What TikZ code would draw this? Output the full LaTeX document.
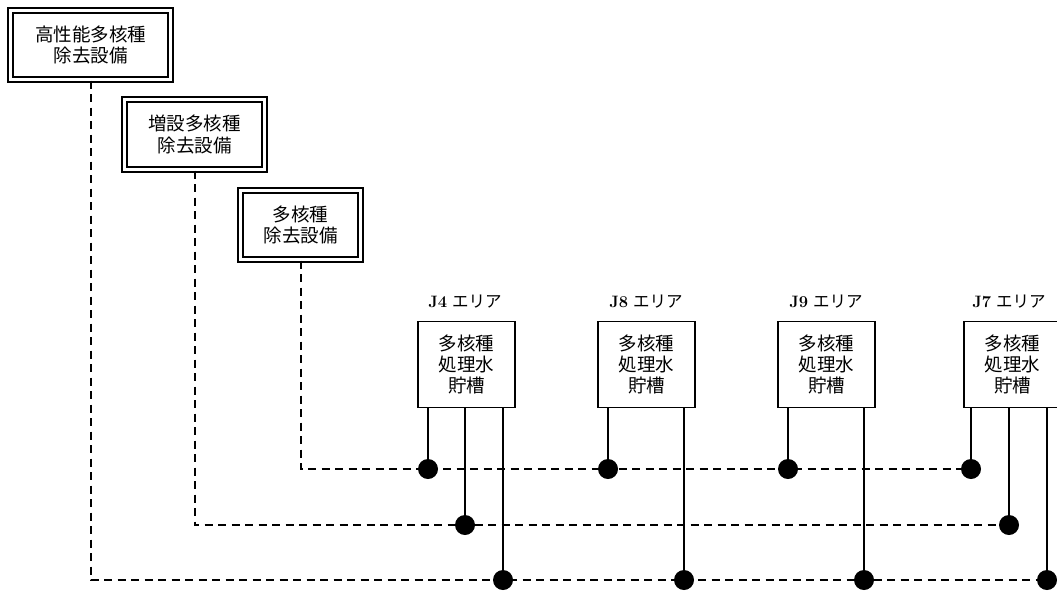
\documentclass[tikz,border=0pt]{standalone}
\usepackage{fontspec}
\newfontfamily\jp{Noto Sans CJK JP}
\begin{document}
\begin{tikzpicture}[x=1pt,y=-1pt,
  srcbox/.style={draw,double,line width=2pt,double distance=2.3pt,align=center,
    font=\fontsize{18.5}{21.5}\jp,inner sep=0pt},
  tank/.style={draw,line width=1.8pt,align=center,minimum width=97pt,minimum height=86pt,
    font=\fontsize{18.5}{21}\jp,inner sep=0pt},
  area/.style={font=\fontsize{16.5}{19}\selectfont,inner sep=0pt},
  pipe/.style={line width=1.7pt},
  dline/.style={line width=2pt,dash pattern=on 8pt off 5.5pt},
  jdot/.style={circle,fill,minimum size=20pt,inner sep=0pt}]
\useasboundingbox (0,0) rectangle (1057,595);
% source facilities
\node[srcbox,minimum width=160pt,minimum height=69pt] (b1) at (90.5,45) {高性能多核種\\除去設備};
\node[srcbox,minimum width=140pt,minimum height=70pt] (b2) at (194.5,134.5) {増設多核種\\除去設備};
\node[srcbox,minimum width=120pt,minimum height=69pt] (b3) at (300.5,225) {多核種\\除去設備};
% tanks
\node[tank] (t4) at (466.5,364.5) {多核種\\処理水\\貯槽};
\node[tank] (t8) at (646.5,364.5) {多核種\\処理水\\貯槽};
\node[tank] (t9) at (826.5,364.5) {多核種\\処理水\\貯槽};
\node[tank] (t7) at (1012.5,364.5) {多核種\\処理水\\貯槽};
\node[area] (l4) at (465,302) {\textbf{J4} {\jp エリア}};
\node[area] (l8) at (646,302) {\textbf{J8} {\jp エリア}};
\node[area] (l9) at (826,302) {\textbf{J9} {\jp エリア}};
\node[area] (l7) at (1009,302) {\textbf{J7} {\jp エリア}};
% junction coordinates
\coordinate (a4) at (428,469);
\coordinate (a8) at (608,469);
\coordinate (a9) at (788,469);
\coordinate (a7) at (971,469);
\coordinate (m4) at (465,525);
\coordinate (m7) at (1009,525);
\coordinate (c4) at (503,580);
\coordinate (c8) at (684,580);
\coordinate (c9) at (864,580);
\coordinate (c7) at (1047,580);
% dashed headers
\draw[dline] (b3.south) |- (a4) -- (a8) -- (a9) -- (a7);
\draw[dline] (b2.south) |- (m4) -- (m7);
\draw[dline] (b1.south) |- (c4) -- (c8) -- (c9) -- (c7);
% solid branches
\draw[pipe] (t4.south -| a4) -- (a4);
\draw[pipe] (t4.south -| m4) -- (m4);
\draw[pipe] (t4.south -| c4) -- (c4);
\draw[pipe] (t8.south -| a8) -- (a8);
\draw[pipe] (t8.south -| c8) -- (c8);
\draw[pipe] (t9.south -| a9) -- (a9);
\draw[pipe] (t9.south -| c9) -- (c9);
\draw[pipe] (t7.south -| a7) -- (a7);
\draw[pipe] (t7.south -| m7) -- (m7);
\draw[pipe] (t7.south -| c7) -- (c7);
% junction dots
\foreach \p in {a4,a8,a9,a7,m4,m7,c4,c8,c9,c7}
  \node[jdot] (n\p) at (\p) {};
\end{tikzpicture}
\end{document}
